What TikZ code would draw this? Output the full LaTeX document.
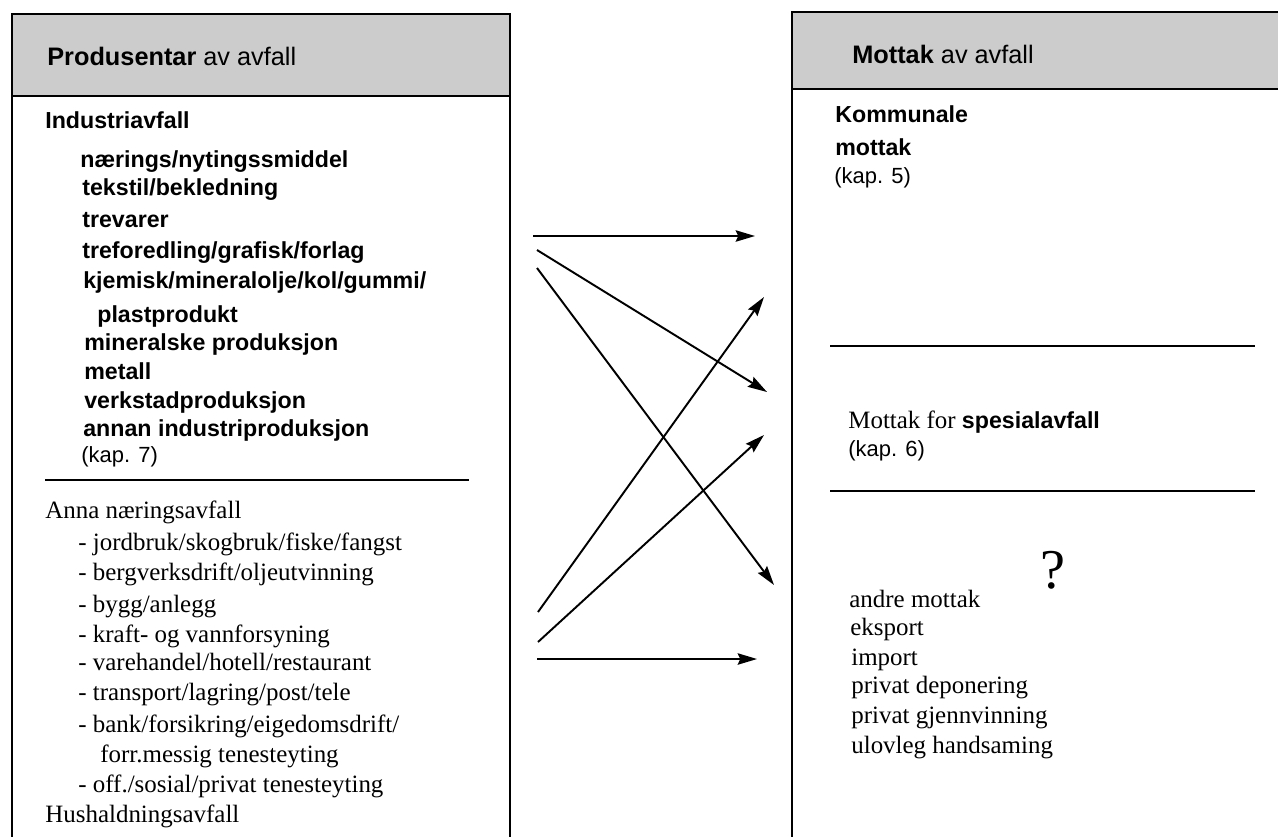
\documentclass[tikz,border=0pt]{standalone}
\usepackage{fontspec}
\setmainfont{Liberation Serif}
\setsansfont{Liberation Sans}
\usetikzlibrary{arrows.meta}

\begin{document}
\begin{tikzpicture}[x=0.02cm,y=-0.02cm,
    txt/.style={anchor=base west,inner sep=0pt,font=\fontsize{14.2}{17}\selectfont},
    sf/.style={txt,font=\fontsize{12.5}{15}\selectfont\sffamily},
    sfb/.style={txt,font=\fontsize{13.2}{16}\selectfont\sffamily\bfseries},
    head/.style={txt,font=\fontsize{14.4}{17}\selectfont\sffamily},
    flow/.style={line width=1.1pt,-{Stealth[length=11pt,width=6.5pt,inset=1.5pt]}}]
    \useasboundingbox (0,0) rectangle (1278,836);
    \clip (0,0) rectangle (1278,836);

    % boxes
    \fill[black!20] (12,14) rectangle (510,96);
    \draw[line width=1.6pt] (12,850) -- (12,14) -- (510,14) -- (510,850);
    \draw[line width=1.6pt] (12,96) -- (510,96);
    \fill[black!20] (792,12) rectangle (1290,89);
    \draw[line width=1.6pt] (792,850) -- (792,12) -- (1290,12);
    \draw[line width=1.6pt] (792,89) -- (1290,89);

    \draw[line width=1.1pt] (45,480) -- (469,480);
    \draw[line width=1.1pt] (830,346) -- (1255,346);
    \draw[line width=1.1pt] (830,491) -- (1255,491);

    % produsentar
    \node (prodhead) at (47,65) [head] {\textbf{Produsentar} av avfall};
    \node (ind) at (45,128) [sfb] {Industriavfall};
    \node (ind1) at (80,167) [sfb] {nærings/nytingssmiddel};
    \node (ind2) at (82,195) [sfb] {tekstil/bekledning};
    \node (ind3) at (82,227) [sfb] {trevarer};
    \node (ind4) at (82,258) [sfb] {treforedling/grafisk/forlag};
    \node (ind5) at (83,288) [sfb] {kjemisk/mineralolje/kol/gummi/};
    \node (ind5b) at (97,322) [sfb] {plastprodukt};
    \node (ind6) at (84,350) [sfb] {mineralske produksjon};
    \node (ind7) at (84,379) [sfb] {metall};
    \node (ind8) at (84,408) [sfb] {verkstadproduksjon};
    \node (ind9) at (83,436) [sfb] {annan industriproduksjon};
    \node (kap7) at (81,462) [sf] {(kap. 7)};

    \node (anna) at (45,518) [txt] {Anna næringsavfall};
    \node (anna1) at (78,550) [txt] {- jordbruk/skogbruk/fiske/fangst};
    \node (anna2) at (78,580) [txt] {- bergverksdrift/oljeutvinning};
    \node (anna3) at (78,612) [txt] {- bygg/anlegg};
    \node (anna4) at (78,642) [txt] {- kraft- og vannforsyning};
    \node (anna5) at (78,670) [txt] {- varehandel/hotell/restaurant};
    \node (anna6) at (78,700) [txt] {- transport/lagring/post/tele};
    \node (anna7) at (78,732) [txt] {- bank/forsikring/eigedomsdrift/};
    \node (anna7b) at (100,762) [txt] {forr.messig tenesteyting};
    \node (anna8) at (78,792) [txt] {- off./sosial/privat tenesteyting};
    \node (hush) at (45,822) [txt] {Hushaldningsavfall};

    % mottak
    \node (mothead) at (852,63) [head] {\textbf{Mottak} av avfall};
    \node (komm) at (835,122) [sfb] {Kommunale};
    \node (komm2) at (835,155) [sfb] {mottak};
    \node (kap5) at (834,183) [sf] {(kap. 5)};

    \node (spes) at (848,428) [txt] {Mottak for \textsf{\fontsize{13.2}{16}\selectfont\bfseries spesialavfall}};
    \node (kap6) at (848,456) [sf] {(kap. 6)};

    \node (qm) at (1040,588) [txt,font=\fontsize{32}{36}\selectfont] {?};
    \node (andre) at (849,607) [txt] {andre mottak};
    \node (eks) at (850,635) [txt] {eksport};
    \node (imp) at (851,665) [txt] {import};
    \node (pdep) at (851,693) [txt] {privat deponering};
    \node (pgj) at (851,723) [txt] {privat gjennvinning};
    \node (ulov) at (851,753) [txt] {ulovleg handsaming};

    % piler
    \coordinate (s1) at (533,236);
    \coordinate (s2) at (537,250);
    \coordinate (s3) at (537,268);
    \coordinate (s4) at (538,612);
    \coordinate (s5) at (538,642);
    \coordinate (s6) at (537,659);
    \coordinate (t1) at (755,236);
    \coordinate (t2) at (767,392);
    \coordinate (t3) at (774,585);
    \coordinate (t4) at (764,297);
    \coordinate (t5) at (764,435);
    \coordinate (t6) at (757,659);

    \draw[flow] (s1) -- (t1);
    \draw[flow] (s2) -- (t2);
    \draw[flow] (s3) -- (t3);
    \draw[flow] (s4) -- (t4);
    \draw[flow] (s5) -- (t5);
    \draw[flow] (s6) -- (t6);
\end{tikzpicture}
\end{document}
